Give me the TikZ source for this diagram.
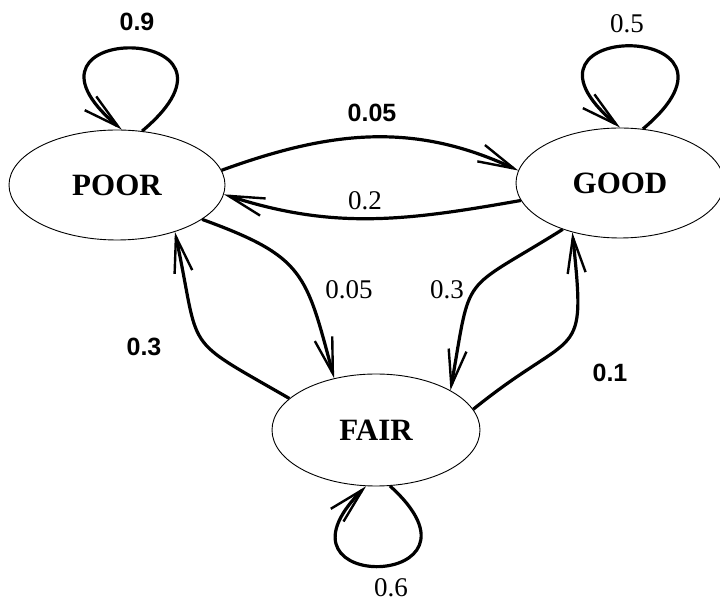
\documentclass[tikz,border=0pt]{standalone}
\usepackage{fontspec}
\setmainfont{Liberation Serif}
\newfontfamily\probsans{Liberation Sans}
\usetikzlibrary{arrows.meta, shapes.geometric}

\begin{document}
\begin{tikzpicture}[x=1pt, y=1pt,
    >={Straight Barb[length=36pt, width=18pt, line width=2.4pt]},
    statebox/.style={draw, ellipse, line width=0.9pt, minimum width=208pt,
                     minimum height=110pt, inner sep=0pt,
                     font=\fontsize{31}{36}\selectfont\bfseries},
    trans/.style={->, line width=3.2pt},
    probserif/.style={font=\fontsize{27}{32}\selectfont},
    probbold/.style={font=\probsans\bfseries\fontsize{25}{30}\selectfont}]
  \useasboundingbox (0,0) rectangle (720,605);
  \node[statebox, minimum width=216pt] (poor) at (117,420) {POOR};
  \node[statebox] (good) at (620,422) {GOOD};
  \node[statebox, minimum height=112pt] (fair) at (376,175) {FAIR};
  % self loops
  \draw[trans] (poor.65) .. controls +(40:170) and +(140:170) .. (poor.85);
  \draw[trans] (good.67) .. controls +(40:170) and +(140:170) .. (good.90);
  \draw[trans] (fair.-76) .. controls +(-42:155) and +(-135:155) .. (fair.-100);
  % transitions between states
  \draw[trans] (poor.8) to[out=20, in=155] (good.173);
  \draw[trans] (good.190) to[out=190, in=-18] (poor.-5);
  \draw[trans] (poor.-22) to[out=-20, in=105, looseness=1.35] (fair.129);
  \draw[trans] (fair.160) to[out=150, in=-78, looseness=1.6] (poor.-39);
  \draw[trans] (good.219) to[out=212, in=80, looseness=1.6] (fair.28);
  \draw[trans] (fair.12) to[out=39, in=-84, looseness=1.7] (good.226);
  % probabilities
  \node[probbold]  (p-poor) at (137,583) {0.9};
  \node[probserif] (p-good) at (627,581) {0.5};
  \node[probserif] (p-fair) at (391,17)  {0.6};
  \node[probbold]  (pg)     at (372,492) {0.05};
  \node[probserif] (gp)     at (365,404) {0.2};
  \node[probserif] (pf)     at (349,315) {0.05};
  \node[probbold]  (fp)     at (144,258) {0.3};
  \node[probserif] (gf)     at (447,315) {0.3};
  \node[probbold]  (fg)     at (610,232) {0.1};
\end{tikzpicture}
\end{document}
